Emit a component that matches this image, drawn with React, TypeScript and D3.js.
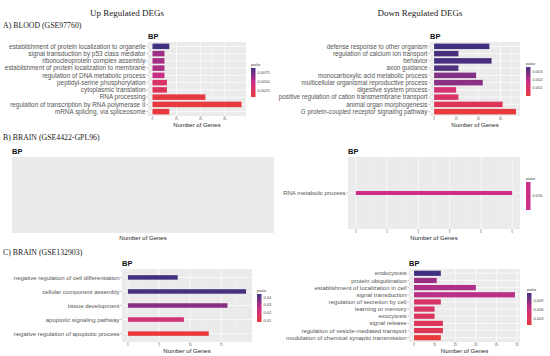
import React, { useEffect, useRef } from 'react';
import * as d3 from 'd3';

// A) BLOOD (GSE97760) - up regulated
const upBloodTerms = [
  'establishment of protein localization to organelle',
  'signal transduction by p53 class mediator',
  'ribonucleoprotein complex assembly',
  'establishment of protein localization to membrane',
  'regulation of DNA metabolic process',
  'peptidyl-serine phosphorylation',
  'cytoplasmic translation',
  'RNA processing',
  'regulation of transcription by RNA polymerase II',
  'mRNA splicing, via spliceosome'
];
const upBloodGenes = [7, 5, 5, 5, 5, 6, 6, 22, 37, 7];
const upBloodPvalues = [0.0089, 0.0062, 0.006, 0.0058, 0.005, 0.003, 0.0025, 0.0012, 0.001, 0.0008];
const upBloodTicks = [0, 10, 20, 30];
const upBloodLegend = [0.0025, 0.005, 0.0075];

// A) BLOOD (GSE97760) - down regulated
const downBloodTerms = [
  'defense response to other organism',
  'regulation of calcium ion transport',
  'behavior',
  'axon guidance',
  'monocarboxylic acid metabolic process',
  'multicellular organismal reproductive process',
  'digestive system process',
  'positive regulation of cation transmembrane transport',
  'animal organ morphogenesis',
  'G protein-coupled receptor signaling pathway'
];
const downBloodGenes = [25, 11, 26, 11, 19, 22, 10, 11, 31, 37];
const downBloodPvalues = [0.0035, 0.0034, 0.0034, 0.0033, 0.0027, 0.0026, 0.0013, 0.001, 0.0007, 0.00005];
const downBloodTicks = [0, 10, 20, 30];
const downBloodLegend = [0.001, 0.002, 0.003];

// B) BRAIN (GSE4422-GPL96) - nothing enriched for up regulated
const downBrainATerms = ['RNA metabolic process'];
const downBrainAGenes = [5];
const downBrainAPvalues = [0.016];
const downBrainATicks = [0, 1, 2, 3, 4, 5];
const downBrainALegend = [0.016];

// C) BRAIN (GSE132903)
const upBrainBTerms = [
  'negative regulation of cell differentiation',
  'cellular component assembly',
  'tissue development',
  'apoptotic signaling pathway',
  'negative regulation of apoptotic process'
];
const upBrainBGenes = [8, 19, 16, 9, 13];
const upBrainBPvalues = [0.044, 0.043, 0.035, 0.022, 0.008];
const upBrainBTicks = [0, 5, 10, 15];
const upBrainBLegend = [0.01, 0.02, 0.03, 0.04];

const downBrainBTerms = [
  'endocytosis',
  'protein ubiquitination',
  'establishment of localization in cell',
  'signal transduction',
  'regulation of secretion by cell',
  'learning or memory',
  'exocytosis',
  'signal release',
  'regulation of vesicle-mediated transport',
  'modulation of chemical synaptic transmission'
];
const downBrainBGenes = [13, 11, 30, 49, 13, 10, 10, 14, 14, 13];
const downBrainBPvalues = [0.0117, 0.0082, 0.0075, 0.007, 0.0042, 0.0038, 0.0035, 0.003, 0.0028, 0.001];
const downBrainBTicks = [0, 10, 20, 30, 40, 50];
const downBrainBLegend = [0.003, 0.006, 0.009];

const PALETTE = ['#e8393c', '#cc2f87', '#41307f'];
const sans = "'Liberation Sans', Arial, sans-serif";
const serif = "'Liberation Serif', 'Times New Roman', serif";

function drawPanel(svg, id, p) {
  const g = svg.append('g');

  g.append('text')
    .attr('x', p.x0)
    .attr('y', p.y0 - 3.5)
    .attr('font-family', sans)
    .attr('font-weight', 'bold')
    .attr('font-size', 7.5)
    .attr('fill', '#111')
    .text('BP');

  g.append('rect')
    .attr('x', p.x0)
    .attr('y', p.y0)
    .attr('width', p.x1 - p.x0)
    .attr('height', p.y1 - p.y0)
    .attr('fill', '#ebebeb');

  g.append('text')
    .attr('x', (p.x0 + p.x1) / 2)
    .attr('y', p.titleY)
    .attr('text-anchor', 'middle')
    .attr('font-family', sans)
    .attr('font-size', 6)
    .attr('fill', '#222')
    .text('Number of Genes');

  if (!p.terms.length) return;

  const max = d3.max(p.genes);
  const x = d3.scaleLinear().domain([-0.05 * max, 1.05 * max]).range([p.x0, p.x1]);
  const y = d3.scalePoint().domain(p.terms).range([p.y0, p.y1]).padding(0.6);
  const [lo, hi] = d3.extent(p.pvalues);
  // a single p-value sits in the middle of the gradient, as in ggplot
  const color =
    lo === hi
      ? () => PALETTE[1]
      : d3
          .scaleLinear()
          .domain([lo, (lo + hi) / 2, hi])
          .range(PALETTE)
          .interpolate(d3.interpolateRgb);

  // grid
  const step = p.ticks[1] - p.ticks[0];
  const minor = d3
    .range(p.ticks[0] - step / 2, x.domain()[1], step)
    .filter(v => v >= x.domain()[0] && v <= x.domain()[1]);
  g.selectAll(null)
    .data(minor)
    .enter()
    .append('line')
    .attr('x1', d => x(d))
    .attr('x2', d => x(d))
    .attr('y1', p.y0)
    .attr('y2', p.y1)
    .attr('stroke', '#f7f7f7')
    .attr('stroke-width', 0.4);
  g.selectAll(null)
    .data(p.ticks)
    .enter()
    .append('line')
    .attr('x1', d => x(d))
    .attr('x2', d => x(d))
    .attr('y1', p.y0)
    .attr('y2', p.y1)
    .attr('stroke', '#fff')
    .attr('stroke-width', 0.7);
  g.selectAll(null)
    .data(p.terms)
    .enter()
    .append('line')
    .attr('x1', p.x0)
    .attr('x2', p.x1)
    .attr('y1', d => y(d))
    .attr('y2', d => y(d))
    .attr('stroke', '#fff')
    .attr('stroke-width', 0.7);

  // bars
  g.selectAll(null)
    .data(p.terms)
    .enter()
    .append('rect')
    .attr('x', x(0))
    .attr('y', d => y(d) - p.barH / 2)
    .attr('width', (d, i) => x(p.genes[i]) - x(0))
    .attr('height', p.barH)
    .attr('fill', (d, i) => color(p.pvalues[i]));

  // y axis
  g.selectAll(null)
    .data(p.terms)
    .enter()
    .append('line')
    .attr('x1', p.x0 - 1.5)
    .attr('x2', p.x0)
    .attr('y1', d => y(d))
    .attr('y2', d => y(d))
    .attr('stroke', '#444')
    .attr('stroke-width', 0.4);
  g.selectAll(null)
    .data(p.terms)
    .enter()
    .append('text')
    .attr('x', p.x0 - 2.5)
    .attr('y', d => y(d))
    .attr('dy', '0.35em')
    .attr('text-anchor', 'end')
    .attr('font-family', sans)
    .attr('font-size', p.labelSize)
    .attr('fill', '#555')
    .text(d => d);

  // x axis
  g.selectAll(null)
    .data(p.ticks)
    .enter()
    .append('line')
    .attr('x1', d => x(d))
    .attr('x2', d => x(d))
    .attr('y1', p.y1)
    .attr('y2', p.y1 + 1.5)
    .attr('stroke', '#444')
    .attr('stroke-width', 0.4);
  g.selectAll(null)
    .data(p.ticks)
    .enter()
    .append('text')
    .attr('x', d => x(d))
    .attr('y', p.y1 + 4.3)
    .attr('text-anchor', 'middle')
    .attr('font-family', sans)
    .attr('font-size', 3)
    .attr('fill', '#666')
    .text(d => d);

  // colour bar
  const lg = p.legend;
  const grad = svg
    .append('defs')
    .append('linearGradient')
    .attr('id', id)
    .attr('x1', 0)
    .attr('y1', 1)
    .attr('x2', 0)
    .attr('y2', 0);
  d3.range(11).forEach(i => {
    grad
      .append('stop')
      .attr('offset', i / 10)
      .attr('stop-color', color(lo + ((hi - lo) * i) / 10));
  });
  g.append('text')
    .attr('x', lg.x)
    .attr('y', lg.y0 - 2)
    .attr('font-family', sans)
    .attr('font-size', 3.2)
    .attr('fill', '#333')
    .text('pvalue');
  g.append('rect')
    .attr('x', lg.x)
    .attr('y', lg.y0)
    .attr('width', 4.5)
    .attr('height', lg.y1 - lg.y0)
    .attr('fill', `url(#${id})`);
  const ly = d3.scaleLinear().domain([lo, hi]).range([lg.y1, lg.y0]);
  g.selectAll(null)
    .data(p.legendTicks)
    .enter()
    .append('text')
    .attr('x', lg.x + 6.5)
    .attr('y', d => ly(d))
    .attr('dy', '0.35em')
    .attr('font-family', sans)
    .attr('font-size', 4)
    .attr('fill', '#444')
    .text(d => d3.format(lg.fmt)(d));
}

export default function App() {
  const svgRef = useRef(null);

  useEffect(() => {
    const svg = d3.select(svgRef.current);
    svg.selectAll('*').remove();

    const heads = [
      { t: 'Up Regulated DEGs', x: 127, y: 16, a: 'middle', s: 9 },
      { t: 'Down Regulated DEGs', x: 420, y: 16, a: 'middle', s: 9 },
      { t: 'A) BLOOD (GSE97760)', x: 3, y: 28, a: 'start', s: 7.8 },
      { t: 'B) BRAIN (GSE4422-GPL96)', x: 3, y: 140, a: 'start', s: 7.8 },
      { t: 'C) BRAIN (GSE132903)', x: 3, y: 255, a: 'start', s: 7.8 }
    ];
    svg
      .selectAll(null)
      .data(heads)
      .enter()
      .append('text')
      .attr('x', d => d.x)
      .attr('y', d => d.y)
      .attr('text-anchor', d => d.a)
      .attr('font-family', serif)
      .attr('font-size', d => d.s)
      .attr('fill', '#222')
      .text(d => d.t);

    drawPanel(svg, 'gA1', {
      terms: upBloodTerms, genes: upBloodGenes, pvalues: upBloodPvalues,
      ticks: upBloodTicks, legendTicks: upBloodLegend,
      x0: 148, x1: 246, y0: 42, y1: 116, titleY: 127, barH: 5.5, labelSize: 6.4,
      legend: { x: 251, y0: 68, y1: 97, fmt: '.4f' }
    });
    drawPanel(svg, 'gA2', {
      terms: downBloodTerms, genes: downBloodGenes, pvalues: downBloodPvalues,
      ticks: downBloodTicks, legendTicks: downBloodLegend,
      x0: 430, x1: 520, y0: 42, y1: 116, titleY: 127, barH: 5.5, labelSize: 6.3,
      legend: { x: 526, y0: 67, y1: 96, fmt: '.3f' }
    });
    drawPanel(svg, 'gB1', {
      terms: [], genes: [], pvalues: [], ticks: [], legendTicks: [],
      x0: 12, x1: 274, y0: 157, y1: 233, titleY: 240, barH: 4, labelSize: 6
    });
    drawPanel(svg, 'gB2', {
      terms: downBrainATerms, genes: downBrainAGenes, pvalues: downBrainAPvalues,
      ticks: downBrainATicks, legendTicks: downBrainALegend,
      x0: 348, x1: 520, y0: 157, y1: 229, titleY: 240, barH: 4, labelSize: 6,
      legend: { x: 526, y0: 182, y1: 210, fmt: '.3f' }
    });
    drawPanel(svg, 'gC1', {
      terms: upBrainBTerms, genes: upBrainBGenes, pvalues: upBrainBPvalues,
      ticks: upBrainBTicks, legendTicks: upBrainBLegend,
      x0: 122, x1: 252, y0: 269, y1: 342, titleY: 353, barH: 4.5, labelSize: 6,
      legend: { x: 257, y0: 294, y1: 322, fmt: '.2f' }
    });
    drawPanel(svg, 'gC2', {
      terms: downBrainBTerms, genes: downBrainBGenes, pvalues: downBrainBPvalues,
      ticks: downBrainBTicks, legendTicks: downBrainBLegend,
      x0: 409, x1: 520, y0: 269, y1: 342, titleY: 353, barH: 5.2, labelSize: 6,
      legend: { x: 527, y0: 293, y1: 325, fmt: '.3f' }
    });
  }, []);

  return (
    <svg
      ref={svgRef}
      width={550}
      height={356}
      style={{ position: 'absolute', left: 0, top: 0, background: '#fff' }}
    />
  );
}
